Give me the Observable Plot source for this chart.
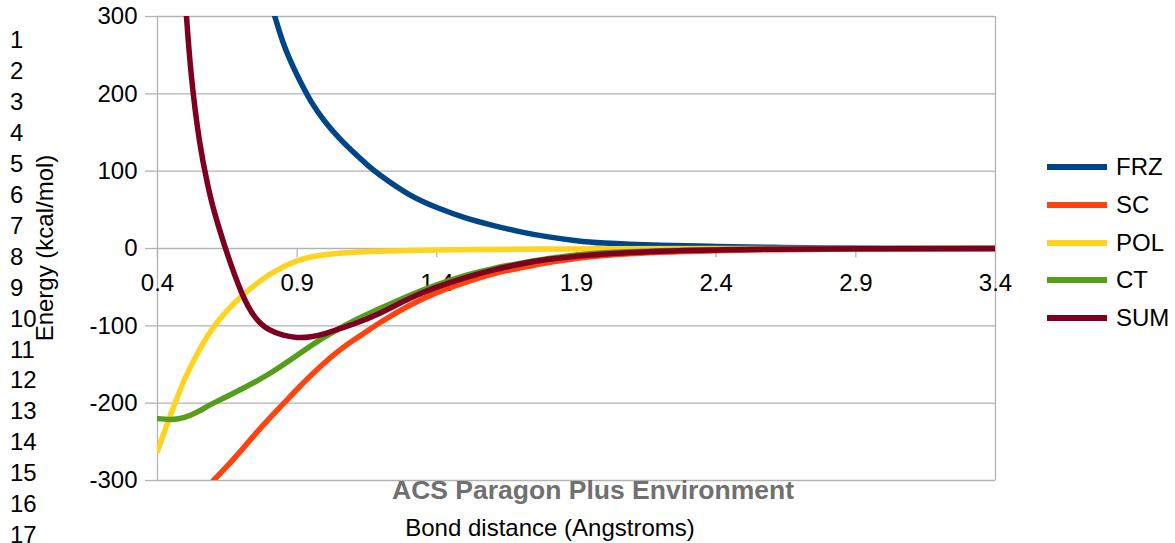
<!DOCTYPE html>
<html>
<head>
<meta charset="utf-8">
<script src="https://cdn.jsdelivr.net/npm/d3@7"></script>
<script src="https://cdn.jsdelivr.net/npm/@observablehq/plot@0.6"></script>
<style>
  html, body { margin: 0; padding: 0; background: #fff; }
  #wrap { position: relative; width: 1175px; height: 543px; font-family: "Liberation Sans", Arial, sans-serif; overflow: hidden; }
  #wrap svg { position: absolute; left: 0; top: 0; }
  .abs { position: absolute; white-space: nowrap; color: #000; font-size: 24px; line-height: 1; }
  .lineno { position: absolute; left: 10px; font-size: 24px; line-height: 1; }
  .leg { position: absolute; left: 1047px; height: 24px; }
  .leg span.sw { position: absolute; left: 0; top: 9px; width: 60px; height: 6px; }
  .leg span.tx { position: absolute; left: 69px; top: 0; font-size: 24px; line-height: 24px; }
</style>
</head>
<body>
<div id="wrap"></div>
<script>
// ---- data ----
const seriesNames = ["FRZ", "SC", "POL", "CT", "SUM"];
const seriesColors = ["#004586", "#ff420e", "#ffd320", "#579d1c", "#7e0021"];

const frzX = [0.8, 0.85, 0.9, 0.95, 1.0, 1.05, 1.1, 1.15, 1.2, 1.3, 1.4, 1.5, 1.6, 1.7, 1.8, 1.9, 2.0, 2.2, 2.4, 2.6, 2.8, 3.0, 3.4];
const frzY = [325, 266, 224, 190, 164, 143, 125, 108.5, 94, 70, 53, 40, 30, 21.5, 15, 10, 7, 4.2, 2.6, 1.5, 0.8, 0.4, 0];

const scX = [0.6, 0.65, 0.7, 0.75, 0.8, 0.85, 0.9, 0.95, 1.0, 1.05, 1.1, 1.15, 1.2, 1.3, 1.4, 1.5, 1.6, 1.7, 1.8, 1.9, 2.0, 2.2, 2.4, 2.6, 3.0, 3.4];
const scY = [-300, -281, -261, -240, -220, -201, -182, -164, -147, -132, -119, -107, -95, -74, -57, -44, -33, -25, -18, -13, -9, -5, -2.8, -1.5, -0.4, 0];

const polX = [0.4, 0.45, 0.5, 0.55, 0.6, 0.65, 0.7, 0.75, 0.8, 0.85, 0.9, 0.95, 1.0, 1.1, 1.2, 1.4, 1.6, 1.8, 2.0, 2.4, 3.4];
const polY = [-262, -212, -167, -131, -102, -80, -62, -47, -34, -24, -16, -11, -8, -5, -3.5, -2, -1.2, -0.7, -0.4, -0.1, 0];

const ctX = [0.4, 0.45, 0.5, 0.55, 0.6, 0.7, 0.8, 0.9, 1.0, 1.1, 1.2, 1.3, 1.4, 1.5, 1.6, 1.7, 1.8, 1.9, 2.0, 2.2, 2.4, 2.6, 3.0, 3.4];
const ctY = [-220, -221, -218, -210, -200, -182, -162, -138, -114, -94, -77, -61, -47, -35, -26, -19, -13, -8.5, -5.5, -3, -1.5, -0.8, -0.2, 0];

const sumX = [0.48, 0.5, 0.52, 0.55, 0.58, 0.6, 0.62, 0.65, 0.7, 0.75, 0.8, 0.85, 0.9, 0.95, 1.0, 1.05, 1.1, 1.2, 1.3, 1.4, 1.5, 1.6, 1.7, 1.8, 1.9, 2.0, 2.2, 2.4, 2.6, 3.0, 3.4];
const sumY = [430, 320, 228, 140, 82, 52, 27, -7, -56, -89, -105, -112, -115, -114, -110, -104, -98, -83, -65, -50, -38, -28, -20, -14, -10, -7, -3.5, -1.8, -0.9, -0.2, 0];

const xTicks = [0.4, 0.9, 1.4, 1.9, 2.4, 2.9, 3.4];
const yTicks = [-300, -200, -100, 0, 100, 200, 300];

const xLabel = "Bond distance (Angstroms)";
const yLabel = "Energy (kcal/mol)";
const watermark = "ACS Paragon Plus Environment";
const lineNumbers = d3.range(1, 18);

// ---- build table ----
const seriesXs = [frzX, scX, polX, ctX, sumX];
const seriesYs = [frzY, scY, polY, ctY, sumY];
const rows = [];
seriesNames.forEach((name, i) => {
  seriesXs[i].forEach((x, j) => rows.push({series: name, x, y: seriesYs[i][j]}));
});

const grid = "#b3b3b3";
const chart = Plot.plot({
  width: 1175,
  height: 543,
  marginLeft: 157,
  marginRight: 180,
  marginTop: 16,
  marginBottom: 63,
  style: {fontFamily: "Liberation Sans, Arial, sans-serif", fontSize: "24px", background: "transparent"},
  x: {domain: [0.4, 3.4], axis: null},
  y: {domain: [-300, 300], axis: null},
  color: {domain: seriesNames, range: seriesColors},
  marks: [
    Plot.gridY(yTicks, {stroke: grid, strokeOpacity: 1, strokeWidth: 1.3}),
    Plot.ruleX([0.4, 3.4], {stroke: grid, strokeWidth: 1.3}),
    Plot.axisY(yTicks, {tickSize: 12, tickPadding: 8, stroke: grid, fill: "#000", strokeWidth: 1.3, label: null, fontSize: 24, tickFormat: d => String(d)}),
    Plot.ruleX(xTicks, {x: d => d, y1: 0, y2: -12, stroke: grid, strokeWidth: 1.3}),
    Plot.text(xTicks, {x: d => d, y: 0, dy: 35, text: d => d.toFixed(1), fill: "#000", fontSize: 24}),
    Plot.line(rows, {x: "x", y: "y", z: "series", stroke: "series", strokeWidth: 5.5, curve: "natural", clip: true})
  ]
});

const wrap = document.getElementById("wrap");
wrap.appendChild(chart);

// line numbers
lineNumbers.forEach((n, i) => {
  const d = document.createElement("div");
  d.className = "lineno";
  d.textContent = n;
  d.style.top = (40 + i * 30.95 - 12) + "px";
  wrap.appendChild(d);
});

// y label
const yl = document.createElement("div");
yl.className = "abs";
yl.textContent = yLabel;
yl.style.left = "45px";
yl.style.top = "248px";
yl.style.transform = "translate(-50%, -50%) rotate(-90deg)";
wrap.appendChild(yl);

// x label
const xl = document.createElement("div");
xl.className = "abs";
xl.textContent = xLabel;
xl.style.left = "550px";
xl.style.top = "528px";
xl.style.transform = "translate(-50%, -50%)";
wrap.appendChild(xl);

// watermark
const wm = document.createElement("div");
wm.className = "abs";
wm.textContent = watermark;
wm.style.left = "593px";
wm.style.top = "490px";
wm.style.fontSize = "26.5px";
wm.style.fontWeight = "bold";
wm.style.color = "#707070";
wm.style.transform = "translate(-50%, -50%)";
wrap.appendChild(wm);

// legend
seriesNames.forEach((name, i) => {
  const g = document.createElement("div");
  g.className = "leg";
  g.style.top = (167.3 + i * 37.6 - 12) + "px";
  const sw = document.createElement("span");
  sw.className = "sw";
  sw.style.background = seriesColors[i];
  const tx = document.createElement("span");
  tx.className = "tx";
  tx.textContent = name;
  g.appendChild(sw);
  g.appendChild(tx);
  wrap.appendChild(g);
});
</script>
</body>
</html>
